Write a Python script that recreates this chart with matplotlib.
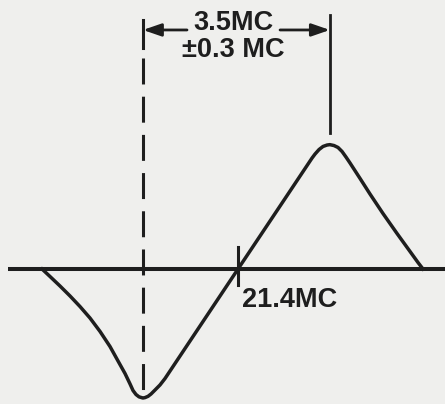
import matplotlib.pyplot as plt

# discriminator response, frequency in MC, response relative to the negative peak
freq = [17.730, 17.879, 18.067, 18.254, 18.441, 18.628, 18.816, 19.003, 19.153,
        19.284, 19.378, 19.434, 19.490, 19.546, 19.602, 19.62, 19.658, 19.715,
        19.771, 19.846, 19.939, 20.033, 20.688, 21.4, 22.187, 22.786, 22.842,
        22.917, 22.992, 23.067, 23.12, 23.198, 23.273, 23.348, 23.422, 23.497,
        23.685, 23.872, 24.115, 24.378, 24.621, 24.771, 24.864]
resp = [0.0, -0.058, -0.132, -0.209, -0.291, -0.380, -0.484, -0.601, -0.713,
        -0.810, -0.891, -0.942, -0.973, -0.991, -0.998, -1.0, -0.997, -0.987,
        -0.969, -0.938, -0.899, -0.849, -0.442, 0.0, 0.488, 0.860, 0.891,
        0.926, 0.950, 0.961, 0.964, 0.957, 0.942, 0.911, 0.868, 0.822,
        0.702, 0.581, 0.430, 0.275, 0.136, 0.050, 0.0]

center = 21.4
f_low = 19.62
f_high = 23.12
spacing_label = "3.5MC"
tol_label = "\u00b10.3 MC"
center_label = "21.4MC"

ink = "#1e1e1e"
bg = "#efefed"

fig = plt.figure(figsize=(4.45, 4.04), dpi=100, facecolor=bg)
ax = fig.add_axes([0, 0, 1, 1])
ax.set_facecolor(bg)
ax.set_xlim(16.943, 25.276)
ax.set_ylim(-1.0465, 2.0853)
ax.axis("off")

# zero line and the response curve
ax.plot([17.09, 25.3], [0, 0], color=ink, lw=2.9, solid_capstyle="butt")
ax.plot(freq, resp, color=ink, lw=2.5, solid_joinstyle="round")

# tick at center frequency
ax.plot([center, center], [0.171, -0.124], color=ink, lw=2.2)

# marker lines at the two peaks
ax.plot([f_low, f_low], [1.93, 1.713], color=ink, lw=2.2)
ax.plot([f_low, f_low], [1.636, -1.0], color=ink, lw=2.2,
        linestyle=(0, (8.5, 4.0)))
ax.plot([f_high, f_high], [1.969, 1.054], color=ink, lw=2.0)

# dimension arrows
arrow_y = 1.853
arrow = dict(arrowstyle="-|>,head_length=1.1,head_width=0.38",
             color=ink, lw=2.0, shrinkA=0, shrinkB=0)
ax.annotate("", xy=(f_low, arrow_y), xytext=(20.445, arrow_y), arrowprops=arrow)
ax.annotate("", xy=(f_high, arrow_y), xytext=(22.187, arrow_y), arrowprops=arrow)

font = dict(family="Liberation Sans", fontsize=19.5, color=ink, weight="bold",
            va="center")
ax.text(21.316, 1.905, spacing_label, ha="center", **font)
ax.text(21.316, 1.70, tol_label, ha="center", **font)
ax.text(21.475, -0.240, center_label, ha="left", **font)

fig.savefig("out.png", dpi=100, facecolor=bg)
